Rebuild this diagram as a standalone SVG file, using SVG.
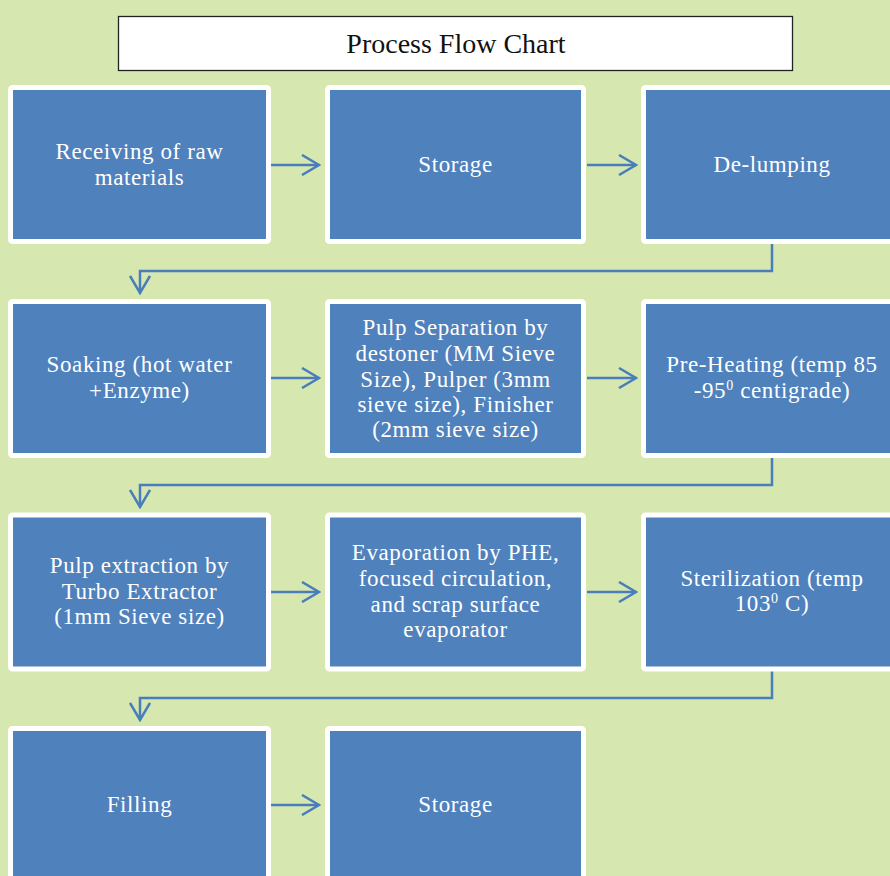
<svg xmlns="http://www.w3.org/2000/svg" width="890" height="876" viewBox="0 0 890 876">
<defs>
<style>
.bg{fill:#d7e7b0}
.box{fill:#4f81bd;stroke:#ffffff;stroke-width:5}
.t{font-family:"Liberation Serif","DejaVu Serif",serif;font-size:23px;fill:#ffffff;text-anchor:middle;letter-spacing:0.6px}
.title{font-family:"Liberation Serif","DejaVu Serif",serif;font-size:28px;fill:#111111;text-anchor:middle}
.c{fill:none;stroke:#4a7ebb;stroke-width:2.5}
.sup{font-size:14px}
</style>
<marker id="ah" viewBox="0 0 20 22" refX="18" refY="11" markerWidth="20" markerHeight="22" markerUnits="userSpaceOnUse" orient="auto">
<path d="M1,1 L18,11 L1,21" fill="none" stroke="#4a7ebb" stroke-width="2.5"/>
</marker>
</defs>
<rect class="bg" x="0" y="0" width="890" height="876"/>
<g id="title">
<rect x="118.5" y="16.5" width="674" height="54" fill="#ffffff" stroke="#222222" stroke-width="1.3"/>
<text class="title" x="456" y="53">Process Flow Chart</text>
</g>
<g id="connectors">
<line class="c" x1="270" y1="165" x2="319" y2="165" marker-end="url(#ah)"/>
<line class="c" x1="587" y1="165" x2="636" y2="165" marker-end="url(#ah)"/>
<polyline class="c" points="772,244 772,271 140,271 140,293" marker-end="url(#ah)"/>
<line class="c" x1="270" y1="378" x2="319" y2="378" marker-end="url(#ah)"/>
<line class="c" x1="587" y1="378" x2="636" y2="378" marker-end="url(#ah)"/>
<polyline class="c" points="772,458 772,485 140,485 140,507" marker-end="url(#ah)"/>
<line class="c" x1="270" y1="592" x2="319" y2="592" marker-end="url(#ah)"/>
<line class="c" x1="587" y1="592" x2="636" y2="592" marker-end="url(#ah)"/>
<polyline class="c" points="772,671 772,698 140,698 140,720" marker-end="url(#ah)"/>
<line class="c" x1="270" y1="805" x2="319" y2="805" marker-end="url(#ah)"/>
</g>
<g id="receiving">
<rect class="box" x="10.5" y="87.5" width="258" height="154" rx="2"/>
<text class="t" x="139.5" y="159">Receiving of raw</text>
<text class="t" x="139.5" y="185">materials</text>
</g>
<g id="storage1">
<rect class="box" x="327.5" y="87.5" width="256" height="154" rx="2"/>
<text class="t" x="455.5" y="172">Storage</text>
</g>
<g id="delumping">
<rect class="box" x="643.5" y="87.5" width="256" height="154" rx="2"/>
<text class="t" x="772" y="172">De-lumping</text>
</g>
<g id="soaking">
<rect class="box" x="10.5" y="301.5" width="258" height="154" rx="2"/>
<text class="t" x="139.5" y="372">Soaking (hot water</text>
<text class="t" x="139.5" y="398">+Enzyme)</text>
</g>
<g id="pulpsep">
<rect class="box" x="327.5" y="301.5" width="256" height="154" rx="2"/>
<text class="t" x="455.5" y="335">Pulp Separation by</text>
<text class="t" x="455.5" y="361">destoner (MM Sieve</text>
<text class="t" x="455.5" y="387">Size), Pulper (3mm</text>
<text class="t" x="455.5" y="412">sieve size), Finisher</text>
<text class="t" x="455.5" y="437">(2mm sieve size)</text>
</g>
<g id="preheating">
<rect class="box" x="643.5" y="301.5" width="256" height="154" rx="2"/>
<text class="t" x="772" y="372">Pre-Heating (temp 85</text>
<text class="t" x="772" y="398">-95<tspan class="sup" dy="-8">0</tspan><tspan dy="8"> centigrade)</tspan></text>
</g>
<g id="pulpext">
<rect class="box" x="10.5" y="515" width="258" height="154" rx="2"/>
<text class="t" x="139.5" y="573">Pulp extraction by</text>
<text class="t" x="139.5" y="599">Turbo Extractor</text>
<text class="t" x="139.5" y="624">(1mm Sieve size)</text>
</g>
<g id="evaporation">
<rect class="box" x="327.5" y="515" width="256" height="154" rx="2"/>
<text class="t" x="455.5" y="560">Evaporation by PHE,</text>
<text class="t" x="455.5" y="586">focused circulation,</text>
<text class="t" x="455.5" y="612">and scrap surface</text>
<text class="t" x="455.5" y="637">evaporator</text>
</g>
<g id="sterilization">
<rect class="box" x="643.5" y="515" width="256" height="154" rx="2"/>
<text class="t" x="772" y="586">Sterilization (temp</text>
<text class="t" x="772" y="611">103<tspan class="sup" dy="-8">0</tspan><tspan dy="8"> C)</tspan></text>
</g>
<g id="filling">
<rect class="box" x="10.5" y="728.5" width="258" height="160" rx="2"/>
<text class="t" x="139.5" y="812">Filling</text>
</g>
<g id="storage2">
<rect class="box" x="327.5" y="728.5" width="256" height="160" rx="2"/>
<text class="t" x="455.5" y="812">Storage</text>
</g>
</svg>
